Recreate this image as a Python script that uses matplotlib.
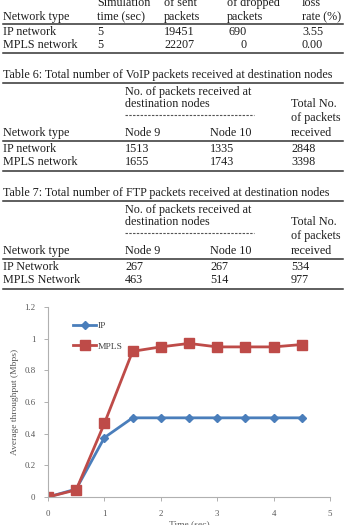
import matplotlib
matplotlib.use("Agg")
import matplotlib.pyplot as plt
from matplotlib.lines import Line2D

plt.rcParams['font.family'] = ['Liberation Serif', 'DejaVu Serif']

# table 5 (only the bottom part shows on the page)
t5_head1 = ['', 'Simulation', 'of sent', 'of dropped', 'loss']
t5_head2 = ['Network type', 'time (sec)', 'packets', 'packets', 'rate (%)']
t5_networks = ['IP network', 'MPLS network']
t5_sim_time = ['5', '5']
t5_sent = ['19451', '22207']
t5_dropped = ['690', '0']
t5_loss = ['3.55', '0.00']

# table 6 - VoIP packets
t6_caption = 'Table 6: Total number of VoIP packets received at destination nodes'
t6_networks = ['IP network', 'MPLS network']
t6_node9 = [1513, 1655]
t6_node10 = [1335, 1743]
t6_total = [2848, 3398]

# table 7 - FTP packets
t7_caption = 'Table 7: Total number of FTP packets received at destination nodes'
t7_networks = ['IP Network', 'MPLS Network']
t7_node9 = [267, 463]
t7_node10 = [267, 514]
t7_total = [534, 977]

# throughput chart
time_sec = [0, 0.5, 1, 1.5, 2, 2.5, 3, 3.5, 4, 4.5]
ip_tput = [0, 0.05, 0.375, 0.5, 0.5, 0.5, 0.5, 0.5, 0.5, 0.5]
mpls_tput = [0, 0.045, 0.465, 0.92, 0.948, 0.97, 0.948, 0.948, 0.948, 0.963]

W, H = 346, 525
fig = plt.figure(figsize=(W / 100, H / 100), dpi=100)
fig.patch.set_facecolor('white')

TXT = '#1e1e1e'
FS = 8.7


def fx(x):
    return x / W


def fy(y):
    return 1 - y / H


def txt(x, y, s, ha='left'):
    fig.text(fx(x), fy(y), s, fontsize=FS, color=TXT, va='center', ha=ha)


def hline(y, x0=3, x1=343, lw=1.1, ls='-', color='#333333'):
    fig.add_artist(Line2D([fx(x0), fx(x1)], [fy(y), fy(y)], lw=lw, ls=ls,
                          color=color, transform=fig.transFigure))


# ---- table 5 ----
t5_x = [3, 97, 164, 227, 302]
for x, s in zip(t5_x, t5_head1):
    txt(x, 3, s)
for x, s in zip(t5_x, t5_head2):
    txt(x, 17, s)
hline(24)
for i, y in enumerate([32, 45]):
    txt(3, y, t5_networks[i])
    txt(97, y, t5_sim_time[i])
    txt(164, y, t5_sent[i])
    txt(247, y, t5_dropped[i], ha='right')
    txt(302, y, t5_loss[i])
hline(53)


# ---- tables 6 and 7 ----
def packet_table(top, caption, networks, node9, node10, total):
    txt(3, top, caption)
    hline(top + 8)
    txt(125, top + 17, 'No. of packets received at')
    txt(125, top + 29, 'destination nodes')
    txt(291, top + 29, 'Total No.')
    hline(top + 40, 125, 254, lw=0.8, ls=(0, (2.2, 1.2)), color='#555555')
    txt(291, top + 43, 'of packets')
    txt(3, top + 58, 'Network type')
    txt(125, top + 58, 'Node 9')
    txt(210, top + 58, 'Node 10')
    txt(291, top + 58, 'received')
    hline(top + 66)
    for i, y in enumerate([top + 74, top + 87]):
        txt(3, y, networks[i])
        txt(125, y, str(node9[i]))
        txt(210, y, str(node10[i]))
        txt(291, y, str(total[i]))
    hline(top + 96)


packet_table(75, t6_caption, t6_networks, t6_node9, t6_node10, t6_total)
packet_table(193, t7_caption, t7_networks, t7_node9, t7_node10, t7_total)

# ---- chart ----
ax = fig.add_axes([fx(48), fy(497), fx(330) - fx(48), (497 - 307) / H])
ax.plot(time_sec, ip_tput, color='#4a7ebb', lw=2, marker='D', ms=4, label='IP')
ax.plot(time_sec, mpls_tput, color='#be4b48', lw=2, marker='s', ms=6.5, label='MPLS')
ax.set_xlim(0, 5)
ax.set_ylim(0, 1.2)
ax.set_xticks([0, 1, 2, 3, 4, 5])
ax.set_yticks([0, 0.2, 0.4, 0.6, 0.8, 1.0, 1.2])
ax.set_yticklabels(['0', '0.2', '0.4', '0.6', '0.8', '1', '1.2'])
for side in ['top', 'right']:
    ax.spines[side].set_visible(False)
for side in ['left', 'bottom']:
    ax.spines[side].set_color('#b0b0b0')
    ax.spines[side].set_linewidth(0.8)
ax.tick_params(axis='both', colors='#b0b0b0', labelcolor='#555555', labelsize=6.3,
               length=3, width=0.7, direction='out', pad=6)
ax.set_ylabel('Average throughput (Mbps)', fontsize=6.8, color='#555555', labelpad=4)
ax.set_xlabel('Time (sec)', fontsize=6.8, color='#555555', labelpad=2)
ax.legend(loc='upper left', bbox_to_anchor=(0.06, 0.97), frameon=False, fontsize=6.8,
          handlelength=2.4, labelspacing=1.3, handletextpad=0.2, labelcolor='#444444')
ax.set_facecolor('white')

fig.savefig('out.png', dpi=100)
